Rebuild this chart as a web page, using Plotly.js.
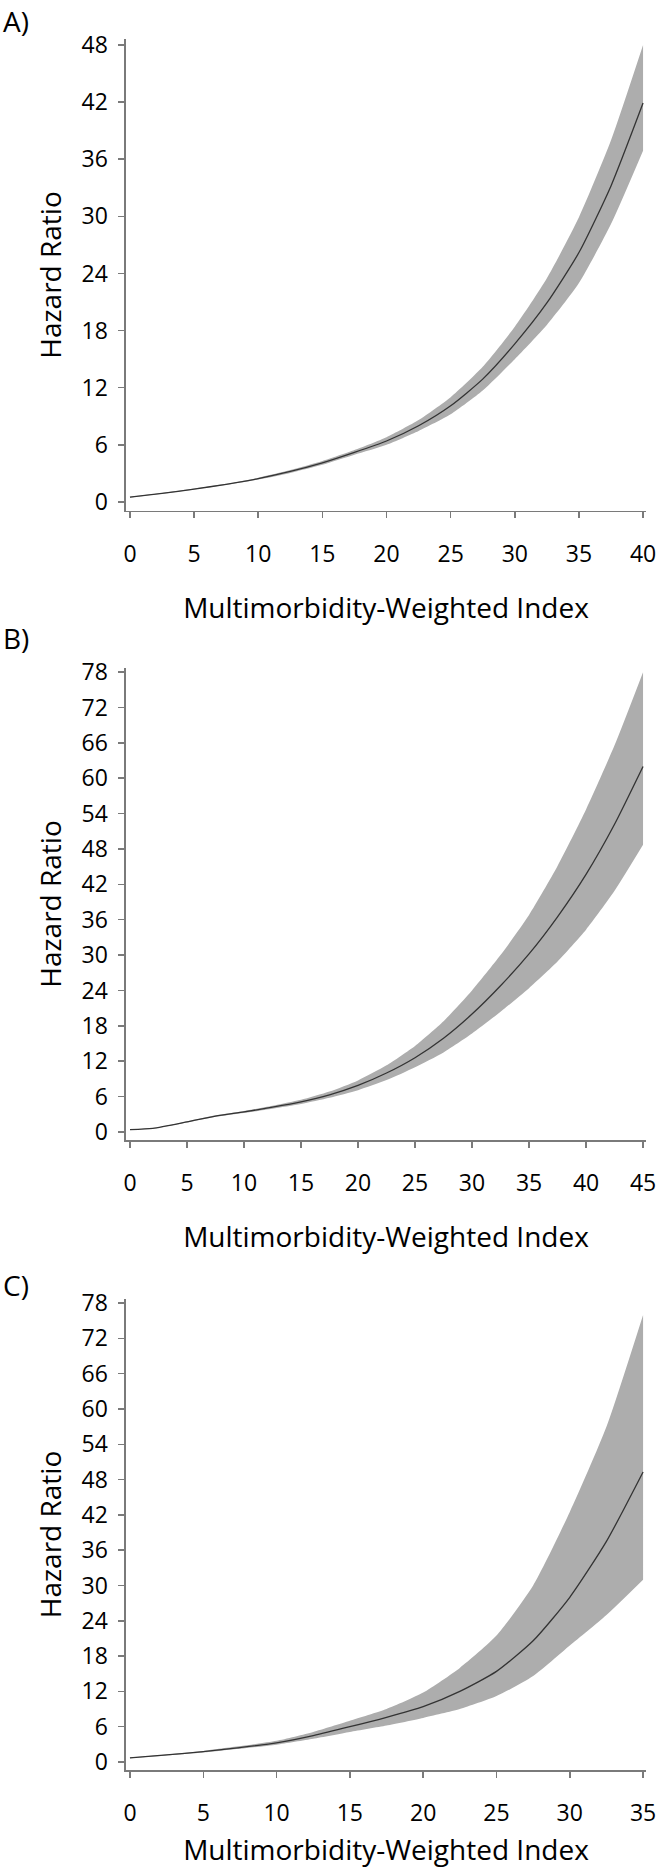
<!DOCTYPE html>
<html>
<head>
<meta charset="utf-8">
<script src="https://cdn.plot.ly/plotly-3.0.1.min.js"></script>
<style>
  html, body { margin: 0; padding: 0; background: #fff; }
  #chart { width: 660px; height: 1868px; }
</style>
</head>
<body>
<div id="chart"></div>
<script>
// Panel A
var xA = [0, 2.5, 5, 7.5, 10, 12.5, 15, 17.5, 20, 22.5, 25, 27.5, 30, 32.5, 35, 37.5, 40];
var hrA = [0.5, 0.9, 1.35, 1.85, 2.45, 3.2, 4.1, 5.2, 6.4, 8.0, 10.1, 12.9, 16.6, 20.9, 26.2, 33.2, 41.9];
var loA = [0.45, 0.85, 1.3, 1.8, 2.35, 3.05, 3.9, 4.95, 6.0, 7.45, 9.2, 11.7, 15.0, 18.6, 23.0, 29.2, 36.9];
var hiA = [0.55, 0.95, 1.4, 1.9, 2.55, 3.35, 4.3, 5.45, 6.8, 8.6, 11.0, 14.2, 18.4, 23.5, 29.9, 38.0, 48.0];

// Panel B
var xB = [0, 2, 5, 7.5, 10, 12.5, 15, 17.5, 20, 22.5, 25, 27.5, 30, 32.5, 35, 37.5, 40, 42.5, 45];
var hrB = [0.4, 0.6, 1.7, 2.7, 3.4, 4.2, 5.1, 6.3, 7.9, 10.0, 12.6, 15.9, 20.0, 24.8, 30.2, 36.5, 43.7, 52.2, 62.0];
var loB = [0.38, 0.57, 1.62, 2.58, 3.22, 3.95, 4.75, 5.8, 7.1, 8.8, 11.0, 13.5, 16.7, 20.4, 24.4, 28.9, 34.3, 40.9, 48.7];
var hiB = [0.42, 0.63, 1.78, 2.82, 3.58, 4.45, 5.45, 6.85, 8.75, 11.3, 14.6, 18.8, 24.0, 30.0, 36.8, 45.1, 54.7, 65.6, 78.0];

// Panel C
var xC = [0, 2.5, 5, 7.5, 10, 12.5, 15, 17.5, 20, 22.5, 25, 27.5, 30, 32.5, 35];
var hrC = [0.7, 1.2, 1.75, 2.45, 3.25, 4.5, 6.0, 7.6, 9.4, 12.0, 15.4, 20.6, 28.0, 37.5, 49.3];
var loC = [0.65, 1.12, 1.62, 2.25, 2.95, 3.95, 5.1, 6.2, 7.5, 9.0, 11.2, 14.6, 19.8, 25.0, 31.0];
var hiC = [0.75, 1.28, 1.88, 2.7, 3.6, 5.1, 7.0, 9.0, 11.8, 16.0, 21.5, 30.0, 42.5, 57.0, 76.0];

var panelLabels = ['A)', 'B)', 'C)'];
var xTitle = 'Multimorbidity-Weighted Index';
var yTitle = 'Hazard Ratio';

var font = 'Open Sans, sans-serif';
var bandColor = '#adadad';
var lineColor = '#333333';
var axisColor = '#7a7a7a';

function panel(x, hr, lo, hi, xa, ya) {
  return [
    {x: x, y: lo, xaxis: xa, yaxis: ya, type: 'scatter', mode: 'lines',
     line: {width: 0, color: bandColor, shape: 'spline', smoothing: 0.6}, hoverinfo: 'skip'},
    {x: x, y: hi, xaxis: xa, yaxis: ya, type: 'scatter', mode: 'lines',
     fill: 'tonexty', fillcolor: bandColor,
     line: {width: 0, color: bandColor, shape: 'spline', smoothing: 0.6}, hoverinfo: 'skip'},
    {x: x, y: hr, xaxis: xa, yaxis: ya, type: 'scatter', mode: 'lines',
     line: {width: 1.3, color: lineColor, shape: 'spline', smoothing: 0.6}}
  ];
}

var data = [].concat(
  panel(xA, hrA, loA, hiA, 'x', 'y'),
  panel(xB, hrB, loB, hiB, 'x2', 'y2'),
  panel(xC, hrC, loC, hiC, 'x3', 'y3')
);

function xaxis(range, anchor) {
  return {
    domain: [0.1909, 0.9788], range: range, anchor: anchor, dtick: 5,
    showline: true, linecolor: axisColor, linewidth: 1.5,
    ticks: 'outside', ticklen: 6, tickwidth: 1.5, tickcolor: axisColor,
    ticklabelstandoff: 16,
    showgrid: false, zeroline: false,
    tickfont: {family: font, size: 23, color: '#000'},
    title: {text: xTitle, font: {family: font, size: 28, color: '#000'}, standoff: 30}
  };
}

function yaxis(domain, range, anchor) {
  return {
    domain: domain, range: range, anchor: anchor, dtick: 6,
    showline: true, linecolor: axisColor, linewidth: 1.5,
    ticks: 'outside', ticklen: 6, tickwidth: 1.5, tickcolor: axisColor,
    ticklabelstandoff: 6,
    showgrid: false, zeroline: false,
    tickfont: {family: font, size: 23, color: '#000'},
    title: {text: yTitle, font: {family: font, size: 28, color: '#000'}, standoff: 12}
  };
}

var annots = [
  {text: panelLabels[0], y: 1 - 15 / 1868},
  {text: panelLabels[1], y: 1 - 638 / 1868},
  {text: panelLabels[2], y: 1 - 1285 / 1868}
].map(function (a) {
  return {text: a.text, x: 0.002, y: a.y, xref: 'paper', yref: 'paper',
          xanchor: 'left', yanchor: 'middle', showarrow: false,
          font: {family: font, size: 28, color: '#000'}};
});
// keep the top label inside the page
annots[0].y = 1;
annots[0].yanchor = 'top';

var layout = {
  width: 660,
  height: 1868,
  margin: {l: 0, r: 0, t: 0, b: 0},
  showlegend: false,
  paper_bgcolor: '#fff',
  plot_bgcolor: '#fff',
  xaxis: xaxis([-0.31, 40.23], 'y'),
  yaxis: yaxis([0.72645, 0.97912], [-0.95, 48.63], 'x'),
  xaxis2: xaxis([-0.35, 45.26], 'y2'),
  yaxis2: yaxis([0.38972, 0.64240], [-1.36, 78.7], 'x2'),
  xaxis3: xaxis([-0.27, 35.2], 'y3'),
  yaxis3: yaxis([0.05246, 0.30460], [-1.36, 78.7], 'x3'),
  annotations: annots
};

Plotly.newPlot('chart', data, layout, {displayModeBar: false, staticPlot: true});
</script>
</body>
</html>
